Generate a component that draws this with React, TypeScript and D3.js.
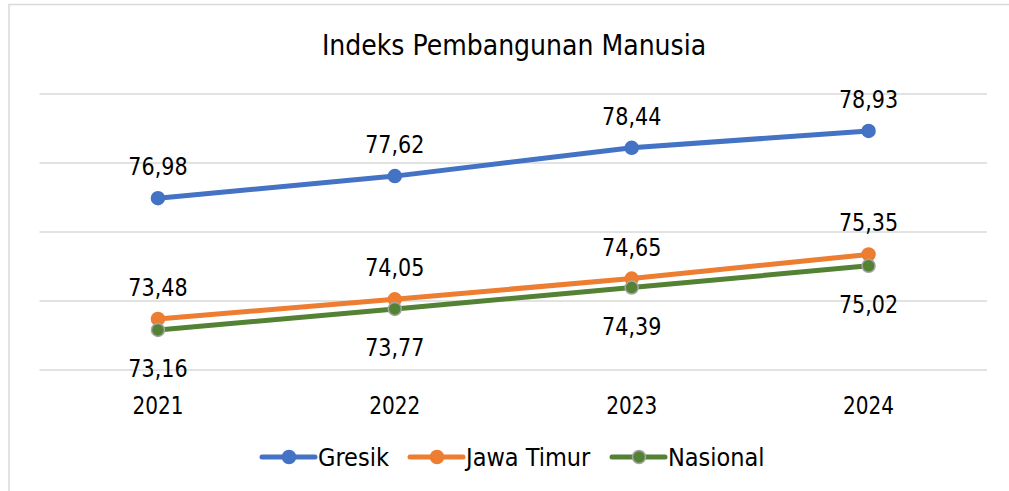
import React from "react";
import * as d3 from "d3";

const years = ["2021", "2022", "2023", "2024"];
const gresik = [76.98, 77.62, 78.44, 78.93];
const jawaTimur = [73.48, 74.05, 74.65, 75.35];
const nasional = [73.16, 73.77, 74.39, 75.02];
const yTicks = [72, 74, 76, 78, 80];

const W = 1009;
const H = 491;
const FONT = "'DejaVu Sans Condensed', 'DejaVu Sans', sans-serif";

const series = [
  { name: "Gresik", values: gresik, color: "#4472C4", stroke: "#4472C4", labelPos: "above" },
  { name: "Jawa Timur", values: jawaTimur, color: "#ED7D31", stroke: "#ED7D31", labelPos: "above" },
  { name: "Nasional", values: nasional, color: "#548235", stroke: "#A5A5A5", labelPos: "below" },
];

const fmt = (v: number) => v.toFixed(2).replace(".", ",");

function Txt({ x, y, size, anchor = "middle", sx = 1, children }: any) {
  return (
    <text
      transform={`translate(${x},${y}) scale(${sx},1)`}
      fontFamily={FONT}
      fontSize={size}
      textAnchor={anchor}
      dy="0.36em"
      fill="#000"
    >
      {children}
    </text>
  );
}

export default function App() {
  const x = d3.scaleBand<string>().domain(years).range([39.5, 987]).padding(0);
  const cx = (d: string) => (x(d) as number) + x.bandwidth() / 2;
  const y = d3.scaleLinear().domain([72, 80]).range([370, 94]);
  const line = d3
    .line<number>()
    .x((_, i) => cx(years[i]))
    .y((v) => y(v));

  const legendItems = [
    { s: series[0], lx: 262, tx: 318 },
    { s: series[1], lx: 410, tx: 466 },
    { s: series[2], lx: 612, tx: 668 },
  ];

  return (
    <svg width={W} height={H} style={{ position: "absolute", left: 0, top: 0 }}>
      <rect x={0} y={0} width={W} height={H} fill="#fff" />
      <rect x={9} y={4.5} width={W + 20} height={H + 20} fill="#fff" stroke="#D9D9D9" strokeWidth={1.5} />
      <Txt x={514} y={45} size={28}>Indeks Pembangunan Manusia</Txt>
      {yTicks.map((t) => (
        <line key={t} x1={39.5} x2={987} y1={y(t)} y2={y(t)} stroke="#D9D9D9" strokeWidth={1.5} />
      ))}
      {years.map((yr) => (
        <Txt key={yr} x={cx(yr)} y={405} size={24} sx={0.93}>{yr}</Txt>
      ))}
      {series.map((s) => (
        <g key={s.name}>
          <path d={line(s.values) || ""} fill="none" stroke={s.color} strokeWidth={5} strokeLinecap="round" />
          {s.values.map((v, i) => (
            <circle key={i} cx={cx(years[i])} cy={y(v)} r={6.5} fill={s.color} stroke={s.stroke} strokeWidth={1.5} />
          ))}
        </g>
      ))}
      {series.map((s) =>
        s.values.map((v, i) => (
          <Txt
            key={s.name + i}
            x={cx(years[i])}
            y={y(v) + (s.labelPos === "above" ? -32 : 38)}
            size={25}
            sx={0.92}
          >
            {fmt(v)}
          </Txt>
        ))
      )}
      {legendItems.map(({ s, lx, tx }) => (
        <g key={s.name}>
          <line x1={lx} x2={lx + 53} y1={457} y2={457} stroke={s.color} strokeWidth={5} strokeLinecap="round" />
          <circle cx={lx + 27} cy={457} r={6.5} fill={s.color} stroke={s.stroke} strokeWidth={1.5} />
          <Txt x={tx} y={457} size={25} anchor="start">{s.name}</Txt>
        </g>
      ))}
    </svg>
  );
}
